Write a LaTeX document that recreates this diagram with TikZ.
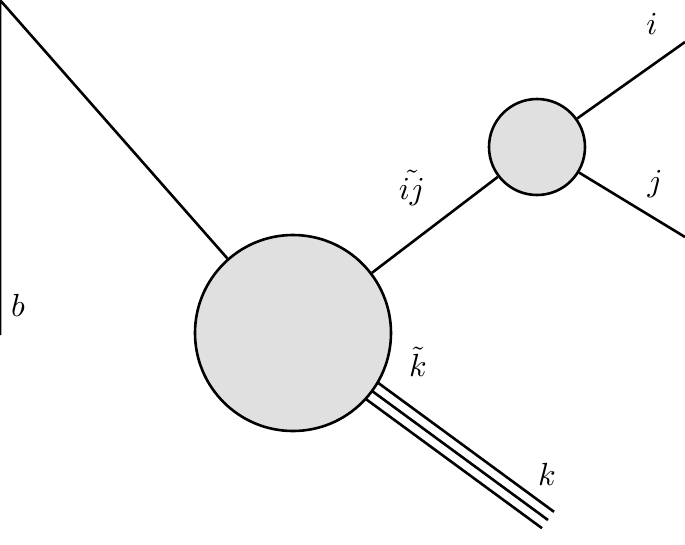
\documentclass[tikz,border=0pt]{standalone}
\usepackage{amsmath}
\usetikzlibrary{calc}
\begin{document}
\begin{tikzpicture}[x=1pt,y=-1pt,line width=2.6pt,
  blob/.style={circle,draw,fill=black!12,line width=2.6pt,inner sep=0pt},
  lbl/.style={scale=3.2,inner sep=0pt}]
\useasboundingbox (0,0) rectangle (685,544);
\coordinate (c) at (293,333);
\coordinate (kend) at (548,520);
\coordinate (bl) at (0,335);
\coordinate (ie) at (685,42);
\coordinate (je) at (685,237);
\foreach \s in {-1,0,1}
  \draw ($(c)+(\s*-6,\s*8.2)$) -- ($(kend)+(\s*-6,\s*8.2)$);
\node[blob,minimum size=196pt] (B) at (c) {};
\node[blob,minimum size=96pt] (S) at (537,147) {};
\draw (bl) -- (335:0) -- (B);
\draw (B) -- (S);
\draw (S) -- (ie);
\draw (S) -- (je);
\node[lbl] (lb) at (18,305) {$b$};
\node[lbl] (lij) at (412,188) {$\tilde{ij}$};
\node[lbl] (li) at (652,24) {$i$};
\node[lbl] (lj) at (655,184) {$j$};
\node[lbl] (lkt) at (418,362) {$\tilde{k}$};
\node[lbl] (lk) at (547,474) {$k$};
\end{tikzpicture}
\end{document}
